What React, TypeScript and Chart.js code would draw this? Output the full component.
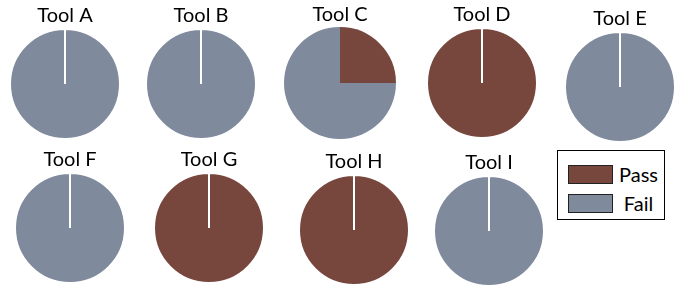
import React, { useEffect, useRef } from "react";
import { Chart, registerables } from "chart.js";

Chart.register(...registerables);

// ---- data ----
const tools = ["Tool A", "Tool B", "Tool C", "Tool D", "Tool E", "Tool F", "Tool G", "Tool H", "Tool I"];
const passValues = [0, 0, 25, 100, 0, 0, 100, 100, 0];
const failValues = [100, 100, 75, 0, 100, 100, 0, 0, 100];
const seriesLabels = ["Pass", "Fail"];
const seriesColors = ["#77463D", "#7F8A9C"];

// ---- layout (pie centres in page pixels) ----
const pieCenters: [number, number][] = [
  [65, 84], [201, 84], [340, 83], [482, 83], [620, 87],
  [70, 228], [209, 228], [354, 230], [489, 231],
];
const AREA = 112;
const TITLE_BLOCK = 22;
const FONT = "Lato, 'Open Sans', sans-serif";

function Pie({ index }: { index: number }) {
  const ref = useRef<HTMLCanvasElement>(null);
  useEffect(() => {
    const vals = [passValues[index], failValues[index]];
    const single = vals.some((v) => v === 0);
    const chart = new Chart(ref.current!, {
      type: "pie",
      data: {
        labels: seriesLabels,
        datasets: [
          {
            data: vals,
            backgroundColor: seriesColors,
            borderColor: "#ffffff",
            borderWidth: single ? 2 : 0,
          },
        ],
      },
      options: {
        animation: false,
        responsive: false,
        events: [],
        layout: { padding: 0 },
        plugins: {
          legend: { display: false },
          tooltip: { enabled: false },
          title: {
            display: true,
            text: tools[index],
            color: "#000000",
            font: { family: FONT, size: 20, weight: "normal", lineHeight: 1 },
            padding: { top: 0, bottom: 2 },
          },
        },
      },
    });
    return () => chart.destroy();
  }, [index]);
  const [cx, cy] = pieCenters[index];
  return (
    <canvas
      ref={ref}
      width={AREA}
      height={AREA + TITLE_BLOCK}
      style={{
        position: "absolute",
        left: cx - AREA / 2,
        top: cy - AREA / 2 - TITLE_BLOCK,
        width: AREA,
        height: AREA + TITLE_BLOCK,
      }}
    />
  );
}

function Legend() {
  return (
    <div
      style={{
        position: "absolute",
        left: 557,
        top: 150,
        width: 106,
        height: 68,
        border: "1px solid #000",
        fontFamily: FONT,
        fontSize: 20,
        color: "#000",
      }}
    >
      {seriesLabels.map((label, i) => (
        <div
          key={label}
          style={{
            position: "absolute",
            left: 10,
            top: 13 + i * 29,
            width: 96,
            height: 20,
            display: "flex",
            alignItems: "center",
          }}
        >
          <div
            style={{
              width: 43,
              height: 17,
              background: seriesColors[i],
              border: "1px solid #222",
              flex: "none",
            }}
          />
          <div style={{ flex: 1, textAlign: "center", lineHeight: "20px" }}>{label}</div>
        </div>
      ))}
    </div>
  );
}

export default function App() {
  return (
    <div
      style={{
        position: "fixed",
        left: 0,
        top: 0,
        width: 679,
        height: 288,
        background: "#ffffff",
        overflow: "hidden",
      }}
    >
      {tools.map((_, i) => (
        <Pie key={i} index={i} />
      ))}
      <Legend />
    </div>
  );
}
